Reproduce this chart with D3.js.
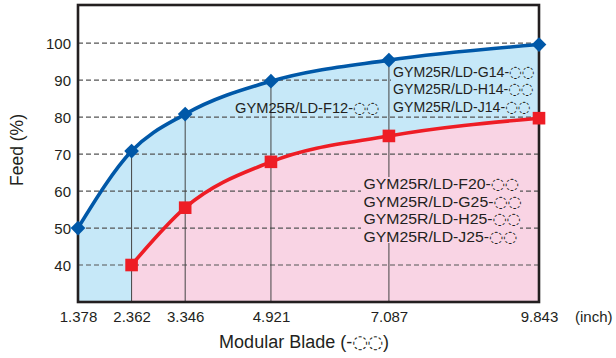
<!DOCTYPE html>
<html>
<head>
<meta charset="utf-8">
<script src="https://cdn.jsdelivr.net/npm/d3@7"></script>
<style>
  html, body { margin: 0; padding: 0; background: #fff; }
  svg { display: block; font-family: "Liberation Sans", Arial, sans-serif; }
</style>
</head>
<body>
<svg id="chart" width="616" height="358"></svg>
<script>
// Blade sizes along the x axis (inch)
const bladeSizes = [1.378, 2.362, 3.346, 4.921, 7.087, 9.843];
const xTickLabels = ["1.378", "2.362", "3.346", "4.921", "7.087", "9.843"];

// Feed (%) for the 14 / 12 series (blue) and the 20 / 25 series (red)
const blueSizes = [1.378, 2.362, 3.346, 4.921, 7.087, 9.843];
const blueFeed = [50, 70.8, 80.8, 89.7, 95.4, 99.6];
const redSizes = [2.362, 3.346, 4.921, 7.087, 9.843];
const redFeed = [40, 55.5, 67.9, 74.9, 79.7];

const yTicks = [40, 50, 60, 70, 80, 90, 100];

const labelF12 = ["GYM25R/LD-F12-◌◌"];
const labelG14 = ["GYM25R/LD-G14-◌◌", "GYM25R/LD-H14-◌◌", "GYM25R/LD-J14-◌◌"];
const labelF20 = ["GYM25R/LD-F20-◌◌", "GYM25R/LD-G25-◌◌", "GYM25R/LD-H25-◌◌", "GYM25R/LD-J25-◌◌"];

const svg = d3.select("#chart");
const plotL = 78, plotR = 539, plotT = 5, plotB = 302;
const ink = "#231f20";

const x = d3.scaleLinear().domain([1.378, 9.843]).range([plotL, plotR]);
const y = d3.scaleLinear().domain([30, 110.3]).range([plotB, plotT]);

const blue = blueSizes.map((s, i) => ({ x: s, y: blueFeed[i] }));
const red = redSizes.map((s, i) => ({ x: s, y: redFeed[i] }));

const curve = d3.curveMonotoneX;
const area = d3.area().x(d => x(d.x)).y0(plotB).y1(d => y(d.y)).curve(curve);
const line = d3.line().x(d => x(d.x)).y(d => y(d.y)).curve(curve);

// writes a string into a text node, setting the dotted-circle placeholders in their own font
function fillText(sel, str, size, k) {
  const parts = str.split(/(◌+)/).filter(p => p.length);
  parts.forEach(p => {
    const t = sel.append("tspan").text(p);
    if (p[0] === "◌") {
      t.attr("font-family", "DejaVu Sans").attr("font-size", size * k)
       .attr("letter-spacing", -size * 0.02);
    }
  });
}

// filled regions under each curve
svg.append("path").attr("d", area(blue)).attr("fill", "#c6e8f8");
svg.append("path").attr("d", area(red)).attr("fill", "#f9d4e4");

// dashed horizontal grid
svg.append("g").selectAll("line").data(yTicks).join("line")
  .attr("x1", plotL).attr("x2", plotR)
  .attr("y1", d => y(d)).attr("y2", d => y(d))
  .attr("stroke", "#555").attr("stroke-width", 1.2)
  .attr("stroke-dasharray", "5,3");

// vertical guides from the x axis up to the blue markers
svg.append("g").selectAll("line").data(blue.slice(1, -1)).join("line")
  .attr("x1", d => x(d.x)).attr("x2", d => x(d.x))
  .attr("y1", plotB).attr("y2", d => y(d.y))
  .attr("stroke", "#444").attr("stroke-width", 1);

// model labels (each block has its own horizontal set width)
const labelSize = 15.2;
function labelBlock(lines, x0, yFirst, sx, bg, box) {
  if (bg) {
    svg.append("rect")
      .attr("x", box[0]).attr("y", box[1])
      .attr("width", box[2]).attr("height", box[3])
      .attr("fill", bg);
  }
  const g = svg.append("g").attr("transform", `translate(${x0},0) scale(${sx},1)`);
  lines.forEach((str, i) => {
    const t = g.append("text")
      .attr("x", 0).attr("y", yFirst + i * 17.4 + labelSize * 0.36)
      .attr("font-size", labelSize).attr("fill", ink);
    fillText(t, str, labelSize, 1.04);
  });
}
labelBlock(labelF12, 235, 107.5, 0.965, null);
labelBlock(labelG14, 393, 71.5, 0.93, "#c6e8f8", [391, 63, 147, 52]);
labelBlock(labelF20, 363.5, 184, 1.04, "#f9d4e4", [361, 177, 159, 66]);

// series lines
svg.append("path").attr("d", line(blue)).attr("fill", "none")
  .attr("stroke", "#0058a8").attr("stroke-width", 3.6).attr("stroke-linejoin", "round");
svg.append("path").attr("d", line(red)).attr("fill", "none")
  .attr("stroke", "#ee1d25").attr("stroke-width", 3.6).attr("stroke-linejoin", "round");

// frame
svg.append("rect").attr("x", plotL).attr("y", plotT)
  .attr("width", plotR - plotL).attr("height", plotB - plotT)
  .attr("fill", "none").attr("stroke", ink).attr("stroke-width", 2.6);

// markers
svg.append("g").selectAll("path").data(blue).join("path")
  .attr("transform", d => `translate(${x(d.x)},${y(d.y)}) rotate(45)`)
  .attr("d", "M-5.2,-5.2H5.2V5.2H-5.2Z")
  .attr("fill", "#0058a8");
svg.append("g").selectAll("rect").data(red).join("rect")
  .attr("x", d => x(d.x) - 6.3).attr("y", d => y(d.y) - 6.3)
  .attr("width", 12.6).attr("height", 12.6)
  .attr("fill", "#ee1d25");

// axes
const xAxis = d3.axisBottom(x).tickValues(bladeSizes)
  .tickFormat((d, i) => xTickLabels[i]).tickSize(0).tickPadding(0);
const gx = svg.append("g").attr("transform", `translate(0,${plotB})`).call(xAxis);
gx.select(".domain").remove();
gx.selectAll("text").attr("y", 14).attr("dy", "0").attr("dominant-baseline", "central")
  .attr("font-size", 15).attr("fill", ink).attr("font-family", "Liberation Sans, Arial, sans-serif");

const yAxis = d3.axisLeft(y).tickValues(yTicks).tickSize(0).tickPadding(0);
const gy = svg.append("g").attr("transform", `translate(${plotL},0)`).call(yAxis);
gy.select(".domain").remove();
gy.selectAll("text").attr("x", -7).attr("dy", "0").attr("dominant-baseline", "central")
  .attr("font-size", 15).attr("fill", ink).attr("font-family", "Liberation Sans, Arial, sans-serif");

svg.append("text").attr("x", 575).attr("y", plotB + 14).attr("dominant-baseline", "central")
  .attr("font-size", 15).attr("fill", ink).text("(inch)");

const xt = svg.append("text").attr("x", 304).attr("y", 342 + 18 * 0.36).attr("text-anchor", "middle")
  .attr("font-size", 18).attr("fill", ink);
fillText(xt, "Modular Blade (-◌◌)", 18, 1.0);

svg.append("text").attr("transform", "translate(17,150) rotate(-90)")
  .attr("text-anchor", "middle").attr("dominant-baseline", "central")
  .attr("font-size", 17.5).attr("fill", ink).text("Feed (%)");
</script>
</body>
</html>
